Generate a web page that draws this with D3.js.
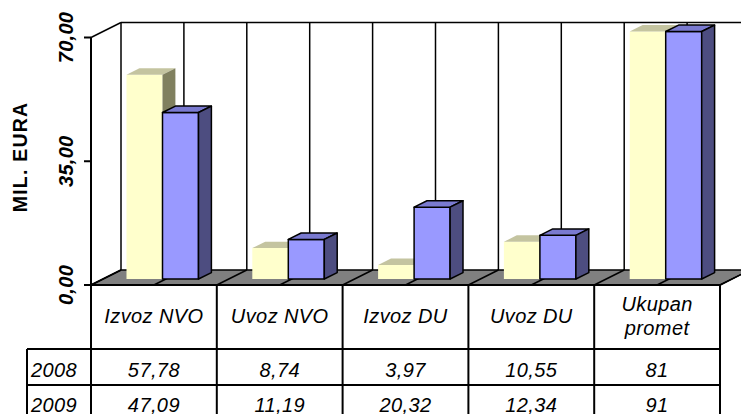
<!DOCTYPE html>
<html>
<head>
<meta charset="utf-8">
<script src="https://cdn.jsdelivr.net/npm/d3@7"></script>
<style>
body { margin: 0; background: #fff; }
</style>
</head>
<body>
<div id="chart"></div>
<script>
var categories = ["Izvoz NVO", "Uvoz NVO", "Izvoz DU", "Uvoz DU", "Ukupan promet"];
var years = ["2008", "2009"];
var values2008 = [57.78, 8.74, 3.97, 10.55, 81];
var values2009 = [47.09, 11.19, 20.32, 12.34, 91];
var yTicks = [0, 35, 70];
var yMax = 70;
var axisTitle = "MIL. EURA";

function fmtValue(v) {
  return Number.isInteger(v) ? String(v) : v.toFixed(2).replace(".", ",");
}

function renderChart(containerSelector) {
  var width = 741;
  var height = 414;
  var plot = { left: 91, right: 720, top: 37.5, bottom: 285 };
  var depth = { dx: 30, dy: -15 };
  var barDepth = [0.4, 0.83];

  var colors = {
    "2008": { front: "#ffffcc", top: "#c4c4a0", side: "#80805f", stroke: "none" },
    "2009": { front: "#9999ff", top: "#7a7ad0", side: "#4d4d80", stroke: "#000" }
  };

  var series = { "2008": values2008, "2009": values2009 };

  var svg = d3
    .select(containerSelector)
    .append("svg")
    .attr("width", width)
    .attr("height", height)
    .attr("font-family", "'Liberation Sans', Arial, Helvetica, sans-serif");

  var x = d3.scaleBand().domain(categories).range([plot.left, plot.right]);
  var xs = d3.scaleBand().domain(years).range([23.5, 95.5]);
  var y = d3.scaleLinear().domain([0, yMax]).range([plot.bottom, plot.top]);

  function pt(px, py, f) {
    return [px + depth.dx * f, py + depth.dy * f];
  }
  function poly(points) {
    return "M" + points.map(function (p) { return p[0] + "," + p[1]; }).join("L") + "Z";
  }

  // half-category positions along the front edge
  var half = [];
  categories.forEach(function (c) {
    half.push(x(c));
    half.push(x(c) + x.bandwidth() / 2);
  });
  half.push(plot.right);

  // back wall top edge and gridlines
  var backTop = pt(plot.left, y(yMax), 1);
  svg
    .append("line")
    .attr("x1", backTop[0])
    .attr("y1", backTop[1])
    .attr("x2", plot.right + depth.dx)
    .attr("y2", backTop[1])
    .attr("stroke", "#000")
    .attr("stroke-width", 1.5);

  half.forEach(function (hx) {
    var a = pt(hx, y(yMax), 1);
    var b = pt(hx, y(0), 1);
    svg
      .append("line")
      .attr("x1", a[0])
      .attr("y1", a[1])
      .attr("x2", b[0])
      .attr("y2", b[1])
      .attr("stroke", "#000")
      .attr("stroke-width", 1.5);
  });

  // left wall top edge
  svg
    .append("line")
    .attr("x1", plot.left)
    .attr("y1", y(yMax))
    .attr("x2", backTop[0])
    .attr("y2", backTop[1])
    .attr("stroke", "#000")
    .attr("stroke-width", 1.5);

  // floor
  svg
    .append("path")
    .attr("d", poly([
      [plot.left, y(0)],
      [plot.right, y(0)],
      pt(plot.right, y(0), 1),
      pt(plot.left, y(0), 1)
    ]))
    .attr("fill", "#808080")
    .attr("stroke", "#000")
    .attr("stroke-width", 1.5)
    .attr("stroke-linejoin", "round");

  half.forEach(function (hx) {
    var b = pt(hx, y(0), 1);
    svg
      .append("line")
      .attr("x1", hx)
      .attr("y1", y(0))
      .attr("x2", b[0])
      .attr("y2", b[1])
      .attr("stroke", "#000")
      .attr("stroke-width", 1.5);
  });

  // bars, drawn left to right so each covers the side of the previous one
  var bars = svg.append("g");
  categories.forEach(function (c, i) {
    years.forEach(function (yr) {
      var v = Math.min(series[yr][i], yMax);
      var col = colors[yr];
      var x0 = x(c) + xs(yr);
      var x1 = x0 + xs.bandwidth();
      var f0 = barDepth[0];
      var f1 = barDepth[1];
      var g = bars.append("g")
        .attr("stroke", col.stroke)
        .attr("stroke-width", 1.5)
        .attr("stroke-linejoin", "round");

      g.append("path")
        .attr("d", poly([pt(x0, y(v), f0), pt(x1, y(v), f0), pt(x1, y(0), f0), pt(x0, y(0), f0)]))
        .attr("fill", col.front);
      g.append("path")
        .attr("d", poly([pt(x0, y(v), f0), pt(x1, y(v), f0), pt(x1, y(v), f1), pt(x0, y(v), f1)]))
        .attr("fill", col.top);
      g.append("path")
        .attr("d", poly([pt(x1, y(v), f0), pt(x1, y(v), f1), pt(x1, y(0), f1), pt(x1, y(0), f0)]))
        .attr("fill", col.side);
    });
  });

  // value axis
  svg
    .append("line")
    .attr("x1", plot.left)
    .attr("y1", y(yMax))
    .attr("x2", plot.left)
    .attr("y2", height)
    .attr("stroke", "#000")
    .attr("stroke-width", 2);

  yTicks.forEach(function (t) {
    svg
      .append("line")
      .attr("x1", plot.left - 7)
      .attr("y1", y(t))
      .attr("x2", plot.left)
      .attr("y2", y(t))
      .attr("stroke", "#000")
      .attr("stroke-width", 2);

    svg
      .append("text")
      .attr("transform", "translate(73," + y(t) + ") rotate(-90)")
      .attr("text-anchor", "middle")
      .attr("font-size", 20)
      .attr("font-weight", "bold")
      .attr("font-style", "italic")
      .attr("letter-spacing", 0.3)
      .text(t.toFixed(2).replace(".", ","));
  });

  svg
    .append("text")
    .attr("transform", "translate(27,157) rotate(-90)")
    .attr("text-anchor", "middle")
    .attr("font-size", 19.5)
    .attr("font-weight", "bold")
    .attr("letter-spacing", 1.2)
    .text(axisTitle);

  // data table
  var rowTop = [349, 385, 421];
  var labelLeft = 27;
  var table = svg.append("g").attr("stroke", "#000").attr("stroke-width", 2);

  table.append("line")
    .attr("x1", plot.left).attr("y1", y(0))
    .attr("x2", plot.right).attr("y2", y(0));

  rowTop.forEach(function (ry) {
    table.append("line")
      .attr("x1", labelLeft).attr("y1", ry)
      .attr("x2", plot.right).attr("y2", ry);
  });

  table.append("line")
    .attr("x1", labelLeft).attr("y1", rowTop[0])
    .attr("x2", labelLeft).attr("y2", height);

  categories.forEach(function (c) {
    table.append("line")
      .attr("x1", x(c) + x.bandwidth()).attr("y1", y(0))
      .attr("x2", x(c) + x.bandwidth()).attr("y2", height);
  });

  var textStyle = function (t) {
    t.attr("font-size", 20)
      .attr("font-style", "italic")
      .attr("letter-spacing", 0.4)
      .attr("fill", "#000");
  };

  categories.forEach(function (c) {
    var cx = x(c) + x.bandwidth() / 2;
    var words = c.split(" ");
    var lines = c.length > 10 ? [words.slice(0, -1).join(" "), words[words.length - 1]] : [c];
    var baselines = lines.length === 1 ? [323] : [311, 335];
    lines.forEach(function (ln, k) {
      svg.append("text")
        .attr("x", cx)
        .attr("y", baselines[k])
        .attr("text-anchor", "middle")
        .call(textStyle)
        .text(ln);
    });
  });

  var rowBase = [376.5, 411.5];
  years.forEach(function (yr, r) {
    svg.append("text")
      .attr("x", 31)
      .attr("y", rowBase[r])
      .call(textStyle)
      .text(yr);

    series[yr].forEach(function (v, i) {
      svg.append("text")
        .attr("x", x(categories[i]) + x.bandwidth() / 2)
        .attr("y", rowBase[r])
        .attr("text-anchor", "middle")
        .call(textStyle)
        .text(fmtValue(v));
    });
  });
}

renderChart("#chart");
</script>
</body>
</html>
